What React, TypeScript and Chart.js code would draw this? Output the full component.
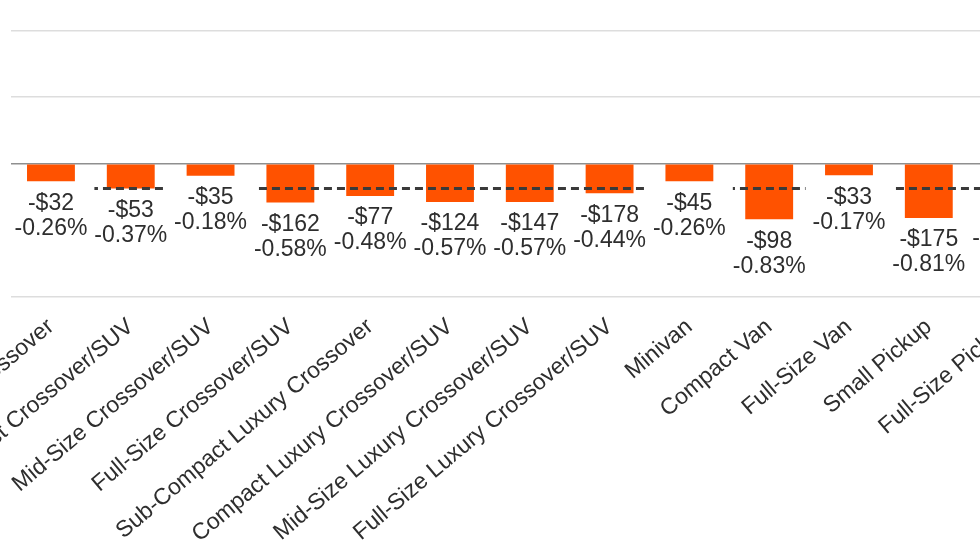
import { useEffect, useRef } from "react";
import { Chart, registerables } from "chart.js";

Chart.register(...registerables);

const categories = [
  "Sub-Compact Crossover",
  "Compact Crossover/SUV",
  "Mid-Size Crossover/SUV",
  "Full-Size Crossover/SUV",
  "Sub-Compact Luxury Crossover",
  "Compact Luxury Crossover/SUV",
  "Mid-Size Luxury Crossover/SUV",
  "Full-Size Luxury Crossover/SUV",
  "Minivan",
  "Compact Van",
  "Full-Size Van",
  "Small Pickup",
  "Full-Size Pickup",
];

const changePct = [-0.26, -0.37, -0.18, -0.58, -0.48, -0.57, -0.57, -0.44, -0.26, -0.83, -0.17, -0.81, -0.41];
const changeUsd = ["-$32", "-$53", "-$35", "-$162", "-$77", "-$124", "-$147", "-$178", "-$45", "-$98", "-$33", "-$175", "-$226"];
const segmentAverage = -0.37;
const yMin = -2;
const yMax = 2;
const yStep = 1;

const FONT = '"Liberation Sans", Arial, Helvetica, sans-serif';
const TEXT = "#2e2e2e";
const BAR = "#ff5200";

const labelPlugin = {
  id: "barValueLabels",
  afterDatasetsDraw(chart: any) {
    const meta = chart.getDatasetMeta(1);
    const ctx = chart.ctx;
    ctx.save();
    ctx.font = `23px ${FONT}`;
    ctx.textAlign = "center";
    ctx.textBaseline = "middle";
    meta.data.forEach((bar: any, i: number) => {
      const { x, y } = bar.getProps(["x", "y"], true);
      const l1 = changeUsd[i];
      const l2 = `${changePct[i].toFixed(2)}%`;
      const w = Math.max(ctx.measureText(l1).width, ctx.measureText(l2).width);
      ctx.fillStyle = "#ffffff";
      ctx.fillRect(x - w / 2 - 7, y + 3, w + 14, 62);
      ctx.fillStyle = TEXT;
      ctx.fillText(l1, x, y + 22);
      ctx.fillText(l2, x, y + 47);
    });
    ctx.restore();
  },
};

export default function App() {
  const wrapRef = useRef<HTMLDivElement>(null);
  const canvasRef = useRef<HTMLCanvasElement>(null);

  useEffect(() => {
    const wrap = wrapRef.current!;
    const chart = new Chart(canvasRef.current!, {
      type: "bar",
      data: {
        labels: categories,
        datasets: [
          {
            type: "line",
            label: "Segment average",
            data: categories.map(() => segmentAverage),
            borderColor: "#3a3a3a",
            borderWidth: 3,
            borderDash: [8, 5],
            pointRadius: 0,
            fill: false,
            order: 0,
          } as any,
          {
            type: "bar",
            label: "Change",
            data: changePct,
            backgroundColor: BAR,
            borderWidth: 0,
            barPercentage: 0.6,
            categoryPercentage: 1.0,
            order: 1,
          },
        ],
      },
      options: {
        animation: false,
        responsive: true,
        maintainAspectRatio: false,
        layout: { padding: 0 },
        plugins: {
          legend: { display: false },
          tooltip: { enabled: false },
        },
        scales: {
          x: {
            grid: { display: false },
            border: { display: false },
            ticks: {
              autoSkip: false,
              maxRotation: 40,
              minRotation: 40,
              padding: 8,
              color: TEXT,
              font: { size: 23, family: FONT },
            },
          },
          y: {
            min: yMin,
            max: yMax,
            border: { display: false },
            ticks: { stepSize: yStep, display: false },
            grid: {
              drawTicks: false,
              color: (c: any) => (c.tick && c.tick.value === 0 ? "#8f8f8f" : "#dddddd"),
              lineWidth: 1.5,
            },
          },
        },
      },
      plugins: [labelPlugin],
    });

    const targetLeft = 11;
    const targetTop = 30;
    const targetHeight = 267;
    const targetWidth = categories.length * 79.8;
    for (let k = 0; k < 3; k++) {
      const a = chart.chartArea;
      const w = wrap.clientWidth + (targetWidth - (a.right - a.left));
      const h = wrap.clientHeight + (targetHeight - (a.bottom - a.top));
      wrap.style.width = `${Math.round(w)}px`;
      wrap.style.height = `${Math.round(h)}px`;
      chart.resize();
    }
    const a = chart.chartArea;
    wrap.style.left = `${targetLeft - a.left}px`;
    wrap.style.top = `${targetTop - a.top}px`;

    return () => chart.destroy();
  }, []);

  return (
    <div
      style={{
        position: "fixed",
        left: 0,
        top: 0,
        width: 980,
        height: 552,
        overflow: "hidden",
        background: "#ffffff",
      }}
    >
      <div ref={wrapRef} style={{ position: "absolute", left: 0, top: 0, width: 1400, height: 700 }}>
        <canvas ref={canvasRef} />
      </div>
    </div>
  );
}
